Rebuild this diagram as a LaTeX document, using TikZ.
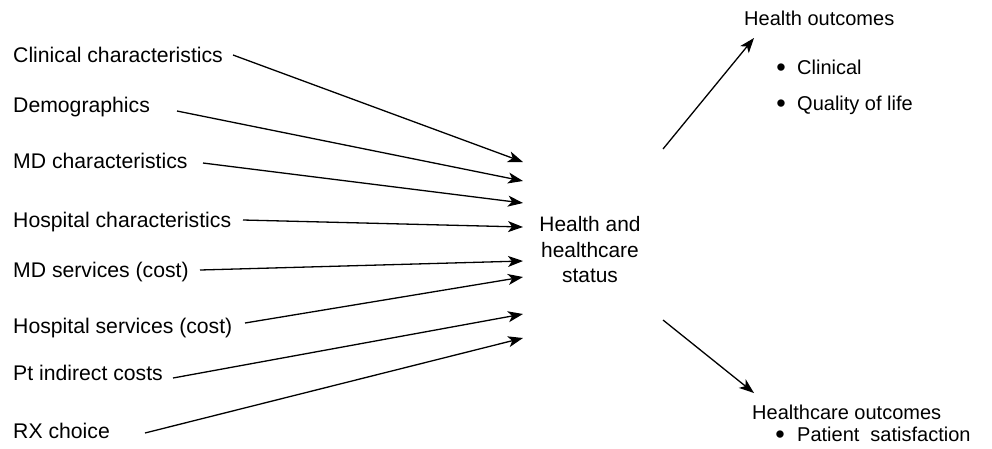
\documentclass[tikz,border=0pt]{standalone}
\usepackage{fontspec}
\usepackage{graphicx}
\setmainfont{Liberation Sans}
\usetikzlibrary{arrows.meta}
\newcommand{\bigbul}{\makebox[7pt][c]{\raisebox{-2.6pt}[0pt][0pt]{\scalebox{1.35}{\textbullet}}}}
\begin{document}
\begin{tikzpicture}[x=1pt,y=-1pt,
  lbl/.style={inner sep=0pt,anchor=base west,font=\fontsize{21.2}{25.5}\selectfont},
  rlbl/.style={inner sep=0pt,anchor=base west,font=\fontsize{20}{24}\selectfont},
  arr/.style={line width=1.3pt,-{Stealth[length=15pt,width=11pt,inset=4pt]}}]
\fill[white] (0,0) rectangle (992,448);
\useasboundingbox (0,0) rectangle (992,448);
% left labels
\node[lbl] (l1) at (13,62) {Clinical characteristics};
\node[lbl] (l2) at (13,112) {Demographics};
\node[lbl] (l3) at (13,168) {MD characteristics};
\node[lbl] (l4) at (13,227) {Hospital characteristics};
\node[lbl] (l5) at (13,277) {MD services (cost)};
\node[lbl] (l6) at (13,333) {Hospital services (cost)};
\node[lbl] (l7) at (13,380) {Pt indirect costs};
\node[lbl] (l8) at (13,438) {RX choice};
% center
\node[inner sep=0pt,align=center,font=\fontsize{20.9}{25.5}\selectfont] (hs) at (590,250) {Health and\\healthcare\\status};
% right
\node[rlbl] (ho) at (744,25) {Health outcomes};
\node[rlbl] (b1) at (777.5,74) {\bigbul\hspace{12.5pt}Clinical};
\node[rlbl] (b2) at (777.5,110) {\bigbul\hspace{12.5pt}Quality of life};
\node[rlbl] (hc) at (752,419) {Healthcare outcomes};
\node[rlbl] (b3) at (776.5,441) {\bigbul\hspace{13.5pt}Patient\hspace{11pt}satisfaction};
% connector ends
\coordinate (s1) at (233,55);  \coordinate (e1) at (523,162);
\coordinate (s2) at (177,111); \coordinate (e2) at (523,181);
\coordinate (s3) at (203,163); \coordinate (e3) at (523,203);
\coordinate (s4) at (243,220); \coordinate (e4) at (523,227);
\coordinate (s5) at (200,270); \coordinate (e5) at (523,261);
\coordinate (s6) at (245,323); \coordinate (e6) at (523,277);
\coordinate (s7) at (173,378); \coordinate (e7) at (523,314);
\coordinate (s8) at (145,433); \coordinate (e8) at (523,338);
\coordinate (u0) at (663,149); \coordinate (u1) at (754,38);
\coordinate (d0) at (663,320); \coordinate (d1) at (754,393);
\foreach \i in {1,...,8} {\draw[arr] (s\i) -- (e\i);}
\draw[arr] (u0) -- (u1);
\draw[arr] (d0) -- (d1);
\end{tikzpicture}
\end{document}
